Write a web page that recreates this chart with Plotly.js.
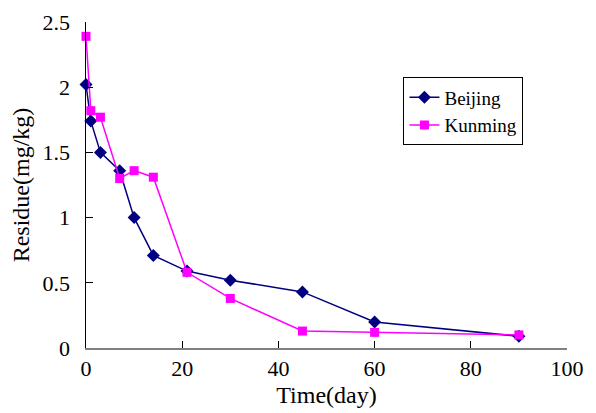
<!DOCTYPE html>
<html>
<head>
<meta charset="utf-8">
<script src="https://cdn.plot.ly/plotly-3.0.1.min.js"></script>
<style>html,body{margin:0;padding:0;background:#fff;}#chart{width:596px;height:413px;}</style>
</head>
<body>
<div id="chart"></div>
<script>
const days = [0, 1, 3, 7, 10, 14, 21, 30, 45, 60, 90];
const beijing = [2.02, 1.74, 1.50, 1.36, 1.00, 0.71, 0.59, 0.52, 0.43, 0.20, 0.09];
const kunming = [2.39, 1.82, 1.77, 1.30, 1.36, 1.31, 0.58, 0.38, 0.13, 0.12, 0.10];
const xTicks = [0, 20, 40, 60, 80, 100];
const yTicks = [0, 0.5, 1, 1.5, 2, 2.5];
const yTickText = ['0', '0.5', '1', '1.5', '2', '2.5'];

const font = "'Liberation Serif', 'Times New Roman', serif";
const traces = [
  {x: days, y: beijing, name: 'Beijing', type: 'scatter', mode: 'lines+markers',
   line: {color: '#000080', width: 1.5},
   marker: {symbol: 'diamond', size: 10, color: '#000080'}, cliponaxis: false},
  {x: days, y: kunming, name: 'Kunming', type: 'scatter', mode: 'lines+markers',
   line: {color: '#FF00FF', width: 1.5},
   marker: {symbol: 'square', size: 9, color: '#FF00FF'}, cliponaxis: false}
];
const layout = {
  width: 596, height: 413,
  margin: {l: 86, r: 29, t: 22, b: 65},
  paper_bgcolor: '#fff', plot_bgcolor: '#fff',
  font: {family: font, color: '#000', size: 22},
  showlegend: true,
  legend: {x: 0.66, y: 0.83, xanchor: 'left', yanchor: 'top',
           bordercolor: '#000', borderwidth: 1, bgcolor: '#fff',
           font: {family: font, size: 19, color: '#000'}},
  xaxis: {range: [0, 100], tickvals: xTicks, ticktext: xTicks.map(String),
          ticks: 'inside', ticklen: 7, tickcolor: '#000', tickwidth: 1,
          showline: true, linecolor: '#808080', linewidth: 1.5,
          showgrid: false, zeroline: false, ticklabelstandoff: 0,
          tickfont: {family: font, size: 22, color: '#000'},
          title: {text: 'Time(day)', font: {family: font, size: 24, color: '#000'}, standoff: 6}},
  yaxis: {range: [0, 2.5], tickvals: yTicks, ticktext: yTickText,
          ticks: 'inside', ticklen: 7, tickcolor: '#000', tickwidth: 1,
          showline: true, linecolor: '#000', linewidth: 1.5,
          showgrid: false, zeroline: false, ticklabelstandoff: 10,
          tickfont: {family: font, size: 22, color: '#000'},
          title: {text: 'Residue(mg/kg)', font: {family: font, size: 24, color: '#000'}, standoff: 6}}
};
Plotly.newPlot('chart', traces, layout, {displayModeBar: false, staticPlot: true});
</script>
</body>
</html>
